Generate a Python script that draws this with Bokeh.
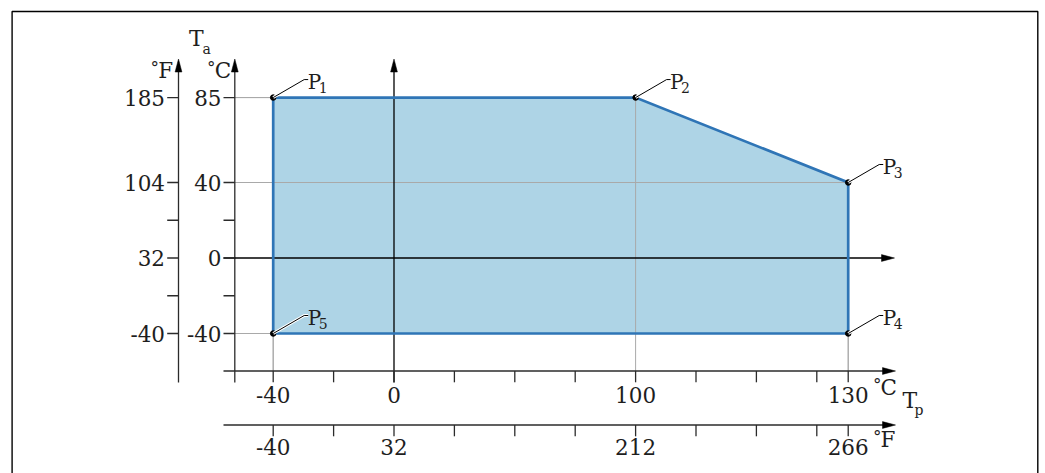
import numpy as np
from bokeh.plotting import figure
from bokeh.models import Range1d
from bokeh.core.properties import value
from bokeh.embed import file_html
from bokeh.resources import INLINE

# ---------------- data ----------------
point_names = ["1", "2", "3", "4", "5"]
tp_c = [-40, 100, 130, 130, -40]      # process temperature Tp, °C
ta_c = [85, 85, 40, -40, -40]         # ambient temperature Ta, °C

x_ticks_c = [-40, 0, 100, 130]
x_ticks_f = [-40, 32, 212, 266]
y_ticks_c = [85, 40, 0, -40]
y_ticks_f = [185, 104, 32, -40]
y_minor_c = [20, -20]

# schematic (not to scale) x-axis: anchor values and their positions in tick steps
x_anchor_c = [-40, 0, 100, 130]
x_anchor_pos = [-2.0, 0.0, 4.0, 7.52]
x_minor_pos = [-1, 1, 2, 3, 5, 6, 7]


def xpos(c):
    return np.interp(np.asarray(c, float), x_anchor_c, x_anchor_pos)


def f2c(f):
    return (np.asarray(f, float) - 32.0) * 5.0 / 9.0


# ---------------- layout ----------------
W, H = 1040, 473
SX, X0 = 60.4, 393.5      # px per tick step, canvas px of 0 °C
SY, Y0 = 1.8875, 257.5    # px per °C, canvas px of 0 °C


def px(xp):   # canvas pixel -> x data
    return (xp - X0) / SX


def py(yp):   # canvas pixel -> y data
    return (Y0 - yp) / SY


dx = lambda n: n / SX
dy = lambda n: n / SY

FONT = value("DejaVu Serif")
TXT = "#1e1e1e"
AX = "#2b2b2b"
GUIDE = "#a9a9a9"
FILL = "#aed4e6"
EDGE = "#2f75b6"
FS = "21.5px"

p = figure(width=W, height=H, output_backend="svg", toolbar_location=None,
           x_range=Range1d(-X0 / SX, (W - X0) / SX),
           y_range=Range1d(-(H - Y0) / SY, Y0 / SY),
           x_axis_location=None, y_axis_location=None, min_border=0)
p.grid.visible = False
p.outline_line_color = None
p.background_fill_color = "white"
p.border_fill_color = "white"

# frame
p.line([px(11.6), px(11.6), px(1037.3), px(1037.3)], [py(700), py(11.0), py(11.0), py(700)],
       line_color="black", line_width=1.4)

C_AX = px(234.3)
F_AX = px(178)
XC_Y = py(370.5)
XF_Y = py(424.5)
AX_BOTTOM = py(382)
TIP_Y = py(58.5)
TIP_X = px(895)
AX_LEFT = px(223)

xs = xpos(tp_c)
ys = np.array(ta_c, float)

# polygon fill
p.patch(list(xs), list(ys), fill_color=FILL, line_color=None)

# grey guide lines
for xv, yv in zip(xs, ys):
    p.line([C_AX, xv], [yv, yv], line_color=GUIDE, line_width=1)
    p.line([xv, xv], [yv, XC_Y], line_color=GUIDE, line_width=1)

# axes lines
for xa, col in [(F_AX, AX), (C_AX, AX), (xpos(0), "black")]:
    p.line([xa, xa], [AX_BOTTOM, TIP_Y - dy(10)], line_color=col, line_width=1.3)
for ya, col in [(0, "black"), (XC_Y, AX), (XF_Y, AX)]:
    p.line([AX_LEFT, TIP_X - dx(10)], [ya, ya], line_color=col, line_width=1.3)

# arrow heads
AL, AW = 13, 3.4
for xa in [F_AX, C_AX, float(xpos(0))]:
    p.patch([xa, xa - dx(AW), xa + dx(AW)], [TIP_Y, TIP_Y - dy(AL), TIP_Y - dy(AL)],
            fill_color="black", line_color="black", line_width=0.5)
for ya, tx in [(0, px(894)), (XC_Y, TIP_X), (XF_Y, TIP_X)]:
    p.patch([tx, tx - dx(AL), tx - dx(AL)], [ya, ya + dy(AW), ya - dy(AW)],
            fill_color="black", line_color="black", line_width=0.5)

# y ticks
for yv in list(y_ticks_c) + list(y_minor_c):
    p.line([C_AX - dx(11.3), C_AX], [yv, yv], line_color=AX, line_width=1.3)
    p.line([F_AX - dx(11.3), F_AX], [yv, yv], line_color=AX, line_width=1.3)

# x ticks
for xv in list(xpos(x_ticks_c)) + list(x_minor_pos):
    p.line([xv, xv], [XC_Y, XC_Y - dy(11.3)], line_color=AX, line_width=1.3)
for xv in list(xpos(f2c(x_ticks_f))) + list(x_minor_pos):
    p.line([xv, xv], [XF_Y, XF_Y - dy(11.3)], line_color=AX, line_width=1.3)

# polygon edge
p.patch(list(xs), list(ys), fill_color=None, line_color=EDGE, line_width=2.7,
        line_join="miter")

# vertex dots
p.scatter(list(xs), list(ys), size=5.5, fill_color="black", line_color="black")


def labels(x, y, t, align="center", size=FS):
    p.text(list(x), list(y), text=[str(v) for v in t], text_font=FONT, text_font_size=size,
           text_color=TXT, text_align=align, text_baseline="middle")


# leaders and point labels
for xv, yv, name in zip(xs, ys, point_names):
    lx = [xv, xv + dx(31), xv + dx(35)]
    ly = [yv, yv + dy(18), yv + dy(18)]
    p.line(lx, ly, line_color="white", line_width=3)
    p.line(lx, ly, line_color="black", line_width=1)
    labels([xv + dx(34.5)], [yv + dy(15.3)], ["P"], "left", "20px")
    labels([xv + dx(45.5)], [yv + dy(9.8)], [name], "left", "14px")

# tick labels
labels([C_AX - dx(13.3)] * len(y_ticks_c), np.array(y_ticks_c, float), y_ticks_c, "right")
labels([px(164.5)] * len(y_ticks_f), f2c(y_ticks_f), y_ticks_f, "right")
labels(xpos(x_ticks_c), [py(394.3)] * len(x_ticks_c), x_ticks_c)
labels(xpos(f2c(x_ticks_f)), [py(446.3)] * len(x_ticks_f), x_ticks_f)

# unit / axis titles (degree sign set separately, tight like the original)
DEG = "17px"
labels([px(150.0)], [py(66.0)], ["°"], "left", DEG)
labels([px(157.8)], [py(69.5)], ["F"], "left")
labels([px(206.5)], [py(66.0)], ["°"], "left", DEG)
labels([px(214.2)], [py(69.5)], ["C"], "left")
labels([px(188.5)], [py(38.3)], ["T"], "left", "22px")
labels([px(202)], [py(48)], ["a"], "left", "14px")
labels([px(872.5)], [py(383.5)], ["°"], "left", DEG)
labels([px(880.0)], [py(387)], ["C"], "left")
labels([px(872.5)], [py(435.5)], ["°"], "left", DEG)
labels([px(880.0)], [py(439)], ["F"], "left")
labels([px(902)], [py(400.3)], ["T"], "left", "22px")
labels([px(914)], [py(409)], ["p"], "left", "14px")

open("out.html", "w").write(file_html(p, INLINE))
